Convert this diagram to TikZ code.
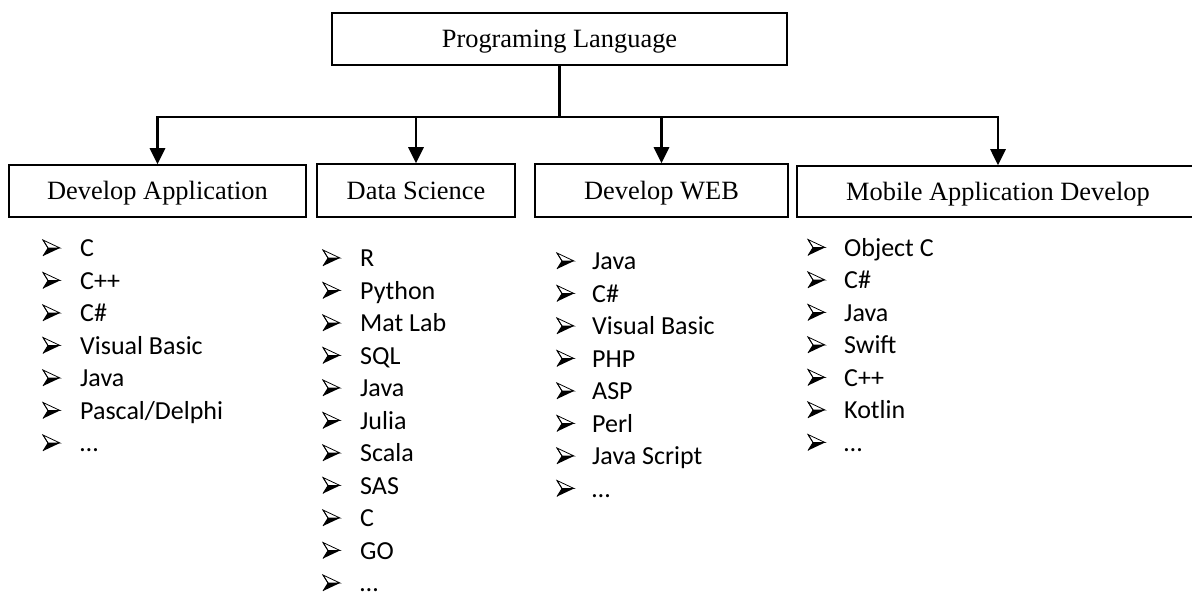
\documentclass[tikz,border=0pt]{standalone}
\usepackage{fontspec}
\setmainfont{Liberation Serif}
\newfontfamily\listfont{Carlito}
\usetikzlibrary{arrows.meta}
\tikzset{
  box/.style={draw, line width=1.6pt, inner sep=0pt, text height=20pt, text depth=2.6pt, font=\fontsize{26.4}{30}\selectfont},
  conn/.style={line width=2.8pt},
  arr/.style={conn, -{Triangle[width=15pt,length=16pt]}},
  item/.style={anchor=base west, inner sep=0pt, font=\listfont\fontsize{26}{31}\selectfont},
  pics/abullet/.style={code={
    \draw[line width=0.8pt, line join=miter] (0,-8) -- (17,0) -- (5,0) -- cycle;
    \fill (5,0) -- (17,0) -- (0,8) -- cycle;
    \draw[line width=0.8pt] (0,-8) -- (5,0) -- (0,8);
  }}
}
\begin{document}
\begin{tikzpicture}[x=1pt,y=-1pt]
\useasboundingbox (0,0) rectangle (1192,595);
\clip (0,0) rectangle (1192,595);
\node[box, minimum width=455pt, minimum height=52pt] (top) at (559.5,39) {Programing Language};
\node[box, minimum width=297pt, minimum height=52pt] (da) at (157.5,191) {Develop Application};
\node[box, minimum width=198pt, minimum height=53pt] (ds) at (416,190.5) {Data Science};
\node[box, minimum width=253pt, minimum height=53pt] (dw) at (661.5,190.5) {Develop WEB};
\node[box, minimum width=402pt, minimum height=51pt] (mad) at (998,191.5) {Mobile Application Develop};
\coordinate (hub) at (top.south |- 0,117);
\draw[conn] (top.south) -- (hub);
\draw[arr] (hub) -| (da.north);
\draw[arr] (hub) -| (ds.north);
\draw[arr] (hub) -| (dw.north);
\draw[arr] (hub) -| (mad.north);
% column 1
\foreach \t [count=\i from 0] in {C,C++,C\#,Visual Basic,Java,Pascal/Delphi,…}{
  \node[item] (a\i) at (80,256.5+32.5*\i) {\t};
  \pic at (43,248+32.5*\i) {abullet};
}
% column 2
\foreach \t [count=\i from 0] in {R,Python,Mat Lab,SQL,Java,Julia,Scala,SAS,C,GO,…}{
  \node[item] (b\i) at (360,266.5+32.5*\i) {\t};
  \pic at (323,258+32.5*\i) {abullet};
}
% column 3
\foreach \t [count=\i from 0] in {Java,C\#,Visual Basic,PHP,ASP,Perl,Java Script,…}{
  \node[item] (c\i) at (592,269.5+32.5*\i) {\t};
  \pic at (557,261+32.5*\i) {abullet};
}
% column 4
\foreach \t [count=\i from 0] in {Object C,C\#,Java,Swift,C++,Kotlin,…}{
  \node[item] (d\i) at (844,256+32.5*\i) {\t};
  \pic at (808,247.5+32.5*\i) {abullet};
}
\end{tikzpicture}
\end{document}
